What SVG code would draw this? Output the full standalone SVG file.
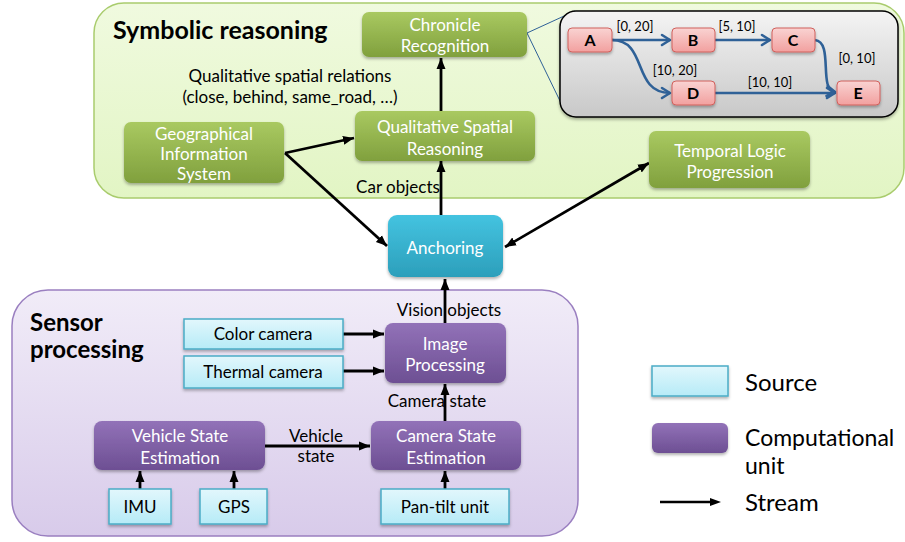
<svg xmlns="http://www.w3.org/2000/svg" width="905" height="542" viewBox="0 0 905 542">
<defs>
<linearGradient id="gSym" x1="0" y1="0" x2="0" y2="1"><stop offset="0" stop-color="#f0fadf"/><stop offset="1" stop-color="#e2f5c4"/></linearGradient>
<linearGradient id="gSen" x1="0" y1="0" x2="0" y2="1"><stop offset="0" stop-color="#f1ecf8"/><stop offset="1" stop-color="#d8cbea"/></linearGradient>
<linearGradient id="gGreen" x1="0" y1="0" x2="0" y2="1"><stop offset="0" stop-color="#a9c961"/><stop offset="1" stop-color="#80a03d"/></linearGradient>
<linearGradient id="gCyan" x1="0" y1="0" x2="0" y2="1"><stop offset="0" stop-color="#44c3e0"/><stop offset="1" stop-color="#2c9fbb"/></linearGradient>
<linearGradient id="gPurple" x1="0" y1="0" x2="0" y2="1"><stop offset="0" stop-color="#9272b8"/><stop offset="1" stop-color="#6d4f93"/></linearGradient>
<linearGradient id="gSrc" x1="0" y1="0" x2="0" y2="1"><stop offset="0" stop-color="#e2f7fc"/><stop offset="1" stop-color="#b6ebf7"/></linearGradient>
<linearGradient id="gGray" x1="0" y1="0" x2="0" y2="1"><stop offset="0" stop-color="#f4f4f4"/><stop offset="1" stop-color="#c8c8c8"/></linearGradient>
<linearGradient id="gRed" x1="0" y1="0" x2="0" y2="1"><stop offset="0" stop-color="#f9d3d2"/><stop offset="1" stop-color="#f2a09f"/></linearGradient>
<filter id="sh" x="-10%" y="-10%" width="125%" height="135%"><feDropShadow dx="0" dy="2" stdDeviation="1.5" flood-color="#000" flood-opacity="0.3"/></filter>
<marker id="ah" markerUnits="userSpaceOnUse" markerWidth="12" markerHeight="12" viewBox="0 0 12 12" refX="11" refY="6" orient="auto-start-reverse"><path d="M0,1.5 L11,6 L0,10.5 Z" fill="#000"/></marker>
<marker id="bh" markerUnits="userSpaceOnUse" markerWidth="14" markerHeight="14" viewBox="0 0 14 14" refX="12" refY="7" orient="auto"><path d="M4,2 L12,7 L4,12" fill="none" stroke="#2f6197" stroke-width="2.6" stroke-linecap="round" stroke-linejoin="round"/></marker>
</defs>
<style>
text{font-family:Lato,"Open Sans","Liberation Sans",sans-serif}
.wt{fill:#fff;font-size:17px;text-anchor:middle}
.bt{fill:#000;font-size:17px;text-anchor:middle}
.lbl{fill:#000;font-size:17px;text-anchor:middle}
.ttl{fill:#000;font-size:25px;font-weight:bold}
.ttl2{fill:#000;font-size:24px;font-weight:bold}
.green{fill:url(#gGreen);filter:url(#sh)}
.purple{fill:url(#gPurple);filter:url(#sh)}
.src{fill:url(#gSrc);stroke:#4bacc6;stroke-width:1.5;filter:url(#sh)}
.red{fill:url(#gRed);stroke:#d0605c;stroke-width:1;filter:url(#sh)}
.rt{fill:#000;font-size:16px;font-weight:bold;text-anchor:middle}
.el{fill:#000;font-size:13px;text-anchor:middle}
.arr{stroke:#000;stroke-width:2.8;fill:none;marker-end:url(#ah)}
.blue{stroke:#2f6197;stroke-width:2.6;fill:none;marker-end:url(#bh)}
.leg{fill:#000;font-size:24px}
.leg2{fill:#000;font-size:23px}
</style>

<g id="symbolic">
<rect x="94" y="3" width="810" height="195" rx="30" fill="url(#gSym)" stroke="#a9cc6d" stroke-width="1.5"/>
<text class="ttl" x="113" y="39">Symbolic reasoning</text>
</g>
<g id="sensor">
<rect x="12" y="290" width="566" height="246" rx="36" fill="url(#gSen)" stroke="#9a7fc0" stroke-width="1.5"/>
<text class="ttl2" x="30" y="331">Sensor</text>
<text class="ttl2" x="30" y="358">processing</text>
</g>

<g id="callout">
<line x1="527" y1="33" x2="575" y2="11" stroke="#2f6197" stroke-width="1"/>
<line x1="527" y1="33" x2="561" y2="103" stroke="#2f6197" stroke-width="1"/>
</g>
<g id="chronicle-inset">
<rect x="560" y="11" width="338" height="106" rx="16" fill="url(#gGray)" stroke="#000" stroke-width="1.5" filter="url(#sh)"/>
</g>
<g id="inset-edges">
<path class="blue" d="M612,40 L670,40"/>
<path class="blue" d="M715,40 L770,40"/>
<path class="blue" d="M612,40 C648,40 632,93 670,93"/>
<path class="blue" d="M715,93 L835,93"/>
<path class="blue" d="M815,40 C834,42 818,90 835,92"/>
<text class="el" x="635" y="31">[0, 20]</text>
<text class="el" x="737" y="31">[5, 10]</text>
<text class="el" x="857" y="63">[0, 10]</text>
<text class="el" x="675" y="75">[10, 20]</text>
<text class="el" x="770" y="87">[10, 10]</text>
</g>
<g id="nA"><rect class="red" x="568" y="28" width="44" height="24" rx="4"/><text class="rt" x="590" y="46">A</text></g>
<g id="nB"><rect class="red" x="672" y="28" width="43" height="24" rx="4"/><text class="rt" x="693" y="46">B</text></g>
<g id="nC"><rect class="red" x="772" y="28" width="43" height="24" rx="4"/><text class="rt" x="793" y="46">C</text></g>
<g id="nD"><rect class="red" x="672" y="81" width="43" height="24" rx="4"/><text class="rt" x="693" y="99">D</text></g>
<g id="nE"><rect class="red" x="837" y="81" width="43" height="24" rx="4"/><text class="rt" x="858" y="99">E</text></g>

<g id="connectors">
<path class="arr" d="M441,111 L441,58"/>
<path class="arr" d="M441,215 L441,161"/>
<path class="arr" d="M285,153 L354,138"/>
<path class="arr" d="M285,153 L387,246"/>
<path class="arr" d="M505,247 L649,163" marker-start="url(#ah)"/>
<path class="arr" d="M445,323 L445,279"/>
<path class="arr" d="M343,334 L384,334"/>
<path class="arr" d="M343,371 L384,371"/>
<path class="arr" d="M445,421 L445,384"/>
<path class="arr" d="M265,446 L370,446"/>
<path class="arr" d="M140,489 L140,471"/>
<path class="arr" d="M234,489 L234,471"/>
<path class="arr" d="M445,489 L445,471"/>
<text class="lbl" x="290" y="82">Qualitative spatial relations</text>
<text class="lbl" x="290" y="103">(close, behind, same_road, …)</text>
<text class="lbl" x="398" y="193">Car objects</text>
<text class="lbl" x="449" y="316">Vision objects</text>
<text class="lbl" x="437" y="407">Camera state</text>
<text class="lbl" x="316" y="442">Vehicle</text>
<text class="lbl" x="316" y="462">state</text>
</g>

<g id="chronicle"><rect class="green" x="362" y="12" width="165" height="45" rx="7"/><text class="wt" x="445" y="31">Chronicle</text><text class="wt" x="445" y="52">Recognition</text></g>
<g id="qsr"><rect class="green" x="355" y="111" width="180" height="50" rx="7"/><text class="wt" x="445" y="133">Qualitative Spatial</text><text class="wt" x="445" y="155">Reasoning</text></g>
<g id="gis"><rect class="green" x="124" y="122" width="160" height="61" rx="7"/><text class="wt" x="204" y="140">Geographical</text><text class="wt" x="204" y="160">Information</text><text class="wt" x="204" y="180">System</text></g>
<g id="temporal"><rect class="green" x="649" y="131" width="161" height="57" rx="7"/><text class="wt" x="730" y="157">Temporal Logic</text><text class="wt" x="730" y="178">Progression</text></g>
<g id="anchoring"><rect x="388" y="215" width="115" height="62" rx="9" fill="url(#gCyan)" filter="url(#sh)"/><text class="wt" x="445" y="254">Anchoring</text></g>

<g id="color-camera"><rect class="src" x="184" y="319" width="159" height="30"/><text class="bt" x="263" y="340">Color camera</text></g>
<g id="thermal-camera"><rect class="src" x="184" y="356" width="159" height="32"/><text class="bt" x="263" y="378">Thermal camera</text></g>
<g id="image-processing"><rect class="purple" x="385" y="323" width="121" height="60" rx="8"/><text class="wt" x="445" y="350">Image</text><text class="wt" x="445" y="371">Processing</text></g>
<g id="vse"><rect class="purple" x="94" y="421" width="171" height="49" rx="8"/><text class="wt" x="180" y="442">Vehicle State</text><text class="wt" x="180" y="464">Estimation</text></g>
<g id="cse"><rect class="purple" x="371" y="421" width="150" height="49" rx="8"/><text class="wt" x="446" y="442">Camera State</text><text class="wt" x="446" y="464">Estimation</text></g>
<g id="imu"><rect class="src" x="109" y="489" width="62" height="35"/><text class="bt" x="140" y="513">IMU</text></g>
<g id="gps"><rect class="src" x="200" y="489" width="67" height="35"/><text class="bt" x="234" y="513">GPS</text></g>
<g id="pantilt"><rect class="src" x="381" y="489" width="128" height="35"/><text class="bt" x="445" y="513">Pan-tilt unit</text></g>

<g id="legend">
<rect class="src" x="652" y="366" width="76" height="30"/>
<text class="leg" x="745" y="391">Source</text>
<rect class="purple" x="652" y="423" width="76" height="30" rx="6"/>
<text class="leg2" x="745" y="446">Computational</text>
<text class="leg2" x="745" y="474">unit</text>
<path d="M660,502 L712,502" stroke="#000" stroke-width="2.5"/>
<path d="M710,498 L721,502 L710,506 Z" fill="#000"/>
<text class="leg" x="745" y="511">Stream</text>
</g>
</svg>
